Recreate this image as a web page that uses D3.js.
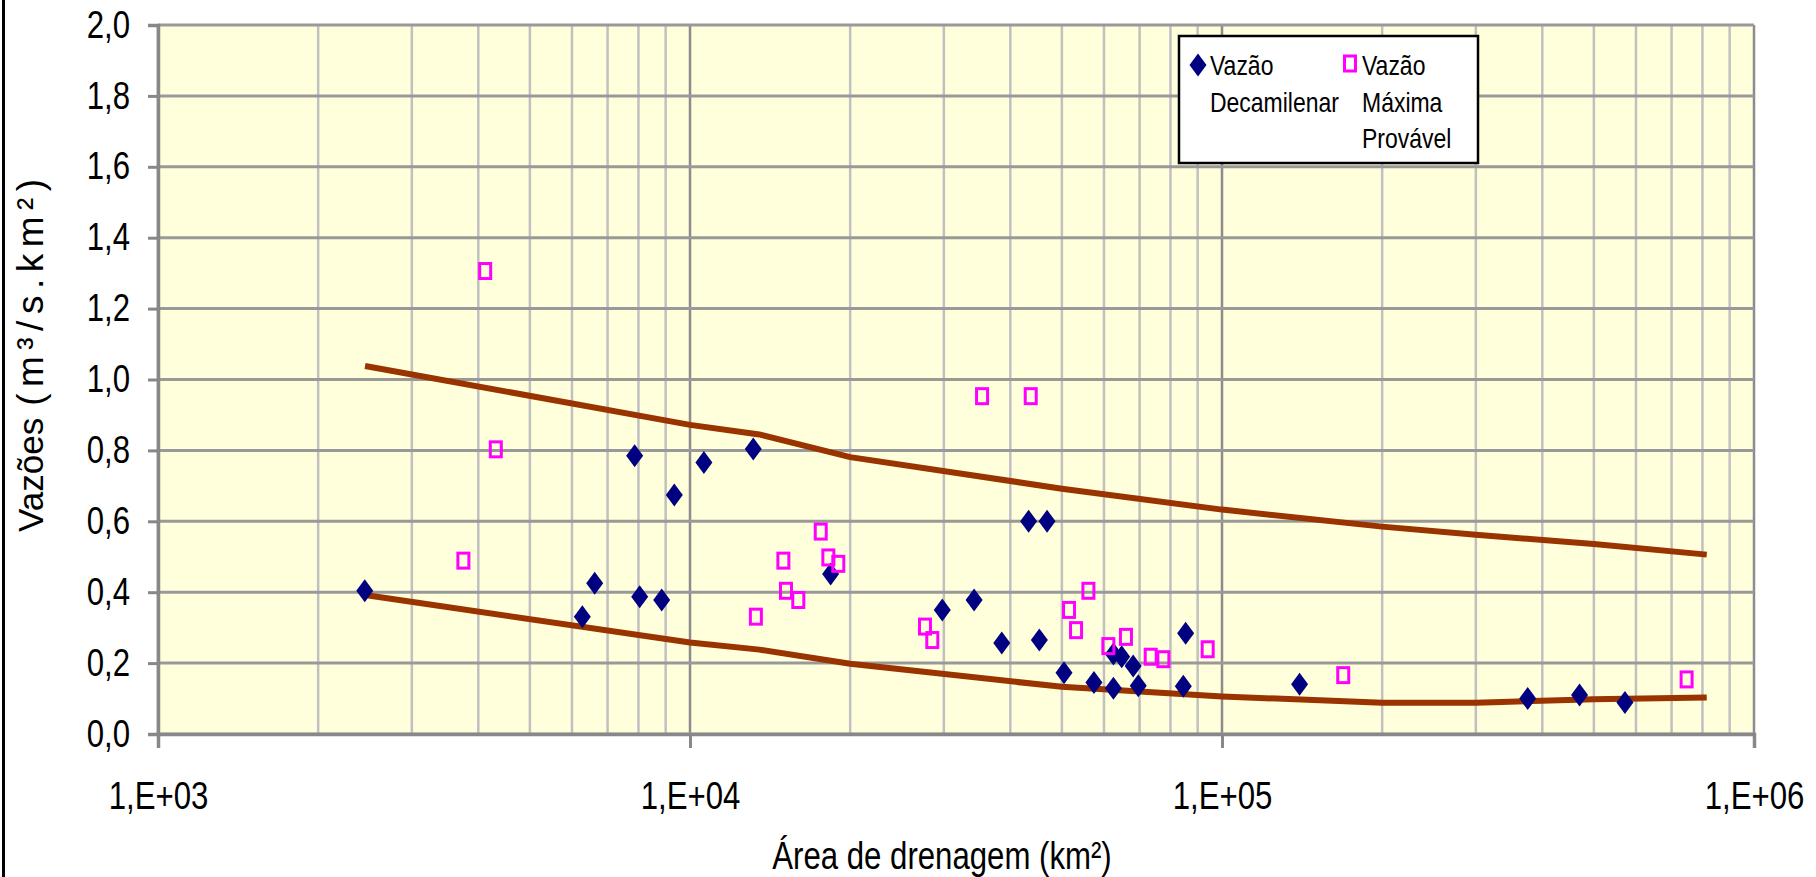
<!DOCTYPE html>
<html>
<head>
<meta charset="utf-8">
<script src="https://cdn.jsdelivr.net/npm/d3@7"></script>
<style>
  html, body { margin:0; padding:0; background:#fff; }
  svg { display:block; }
  text { font-family:"Liberation Sans",Arial,sans-serif; }
</style>
</head>
<body>
<svg id="chart" width="1816" height="877"></svg>
<script>
// ===== DATA =====
// Vazão Decamilenar: área (km²) and vazão específica (m³/s.km²)
const decArea = [2447, 6275, 6620, 7870, 8043, 8847, 9343, 10620, 13150, 18380,
                 29800, 34200, 38550, 43300, 45360, 46900, 50470, 57450, 62500, 64780,
                 62500, 68080, 69600, 85440, 84580, 139900, 375500, 470000, 572000];
const decQ    = [0.404, 0.331, 0.425, 0.785, 0.387, 0.378, 0.674, 0.766, 0.804, 0.451,
                 0.350, 0.378, 0.257, 0.600, 0.265, 0.600, 0.173, 0.145, 0.226, 0.218,
                 0.129, 0.192, 0.136, 0.284, 0.135, 0.140, 0.100, 0.110, 0.089];

// Vazão Máxima Provável
const pmfArea = [3750, 4121, 4315, 13300, 14980, 15150, 15980, 17610, 18200, 19000,
                 27650, 28540, 35400, 43700, 51580, 53170, 56090, 61150, 65990, 73450,
                 77590, 93990, 169000, 747000];
const pmfQ    = [0.489, 1.306, 0.803, 0.331, 0.489, 0.404, 0.378, 0.571, 0.498, 0.480,
                 0.303, 0.265, 0.953, 0.953, 0.350, 0.293, 0.404, 0.248, 0.274, 0.218,
                 0.211, 0.239, 0.166, 0.154];

// envelope curves
const envArea  = [2450, 10000, 13500, 20000, 50000, 100000, 200000, 300000, 500000, 815000];
const envUpper = [1.038, 0.872, 0.845, 0.781, 0.692, 0.633, 0.585, 0.562, 0.536, 0.506];
const envLower = [0.392, 0.258, 0.238, 0.198, 0.133, 0.106, 0.088, 0.088, 0.098, 0.103];

const xTicks = [1e3, 1e4, 1e5, 1e6];
const yTicks = [0, 0.2, 0.4, 0.6, 0.8, 1.0, 1.2, 1.4, 1.6, 1.8, 2.0];

const legendItems = [
  {shape:"diamond", lines:["Vazão", "Decamilenar"]},
  {shape:"square",  lines:["Vazão", "Máxima", "Provável"]}
];

// ===== SETUP =====
const svg = d3.select("#chart");
const margin = {top:25, right:62, bottom:143, left:158};
const W = 1816, H = 877;
const x = d3.scaleLog().domain([1e3, 1e6]).range([margin.left, W - margin.right]);
const y = d3.scaleLinear().domain([0, 2]).range([H - margin.bottom, margin.top]);

const navy = "#000080", magenta = "#ff00ff", brown = "#993300";

// squeeze Liberation Sans to look like Arial Narrow (no narrow font installed)
function narrow(sel, k = 0.82) {
  sel.each(function() {
    const len = this.getComputedTextLength();
    d3.select(this).attr("textLength", len * k).attr("lengthAdjust","spacingAndGlyphs");
  });
}

// dithered yellow background
const defs = svg.append("defs");
const pat = defs.append("pattern").attr("id","dither").attr("width",4).attr("height",4).attr("patternUnits","userSpaceOnUse");
pat.append("rect").attr("width",4).attr("height",4).attr("fill","#ffffd2");
pat.append("rect").attr("x",0).attr("y",0).attr("width",1).attr("height",1).attr("fill","#ffffff");
pat.append("rect").attr("x",2).attr("y",2).attr("width",1).attr("height",1).attr("fill","#ffffff");
pat.append("rect").attr("x",2).attr("y",0).attr("width",1).attr("height",1).attr("fill","#fffff0");
pat.append("rect").attr("x",0).attr("y",2).attr("width",1).attr("height",1).attr("fill","#fffff0");

// left frame line
svg.append("line").attr("x1",3.5).attr("x2",3.5).attr("y1",0).attr("y2",H)
  .attr("stroke","#000").attr("stroke-width",3);

svg.append("rect")
  .attr("x", x.range()[0]).attr("y", y.range()[1])
  .attr("width", x.range()[1] - x.range()[0]).attr("height", y.range()[0] - y.range()[1])
  .attr("fill","url(#dither)");

// ===== GRID =====
const minor = x.ticks().filter(d => Math.abs(Math.log10(d) - Math.round(Math.log10(d))) > 1e-6);
svg.append("g").selectAll("line").data(minor).join("line")
  .attr("x1", d => x(d)).attr("x2", d => x(d))
  .attr("y1", y(0)).attr("y2", y(2))
  .attr("stroke","#c0c0c0").attr("stroke-width",2.5);

svg.append("g").selectAll("line").data(xTicks).join("line")
  .attr("x1", d => x(d)).attr("x2", d => x(d))
  .attr("y1", y(0)).attr("y2", y(2))
  .attr("stroke","#8c8c8c").attr("stroke-width",2.5);

svg.append("g").selectAll("line").data(yTicks).join("line")
  .attr("x1", x(1e3)).attr("x2", x(1e6))
  .attr("y1", d => y(d)).attr("y2", d => y(d))
  .attr("stroke","#999").attr("stroke-width",3);

// ===== AXES =====
const xAxis = svg.append("g")
  .attr("transform",`translate(0,${y(0)})`)
  .call(d3.axisBottom(x).tickValues(xTicks).tickSize(14).tickPadding(34)
        .tickFormat(d => "1,E+0" + Math.round(Math.log10(d))));
const yAxis = svg.append("g")
  .attr("transform",`translate(${x(1e3)},0)`)
  .call(d3.axisLeft(y).tickValues(yTicks).tickSize(10).tickPadding(18)
        .tickFormat(d => d.toFixed(1).replace(".", ",")));

[xAxis, yAxis].forEach(a => {
  a.attr("font-family", null);
  a.select(".domain").attr("stroke","#888").attr("stroke-width",3.5);
  a.selectAll(".tick line").attr("stroke","#888").attr("stroke-width",3);
  a.selectAll(".tick text").attr("fill","#000").style("font-size","38px")
   .call(narrow);
});
xAxis.selectAll(".tick text").attr("dy","0.71em");

// ===== ENVELOPES =====
const line = d3.line().x(d => x(d[0])).y(d => y(d[1]));
[envUpper, envLower].forEach(vals => {
  svg.append("path")
    .datum(envArea.map((a, i) => [a, vals[i]]))
    .attr("d", line)
    .attr("fill","none").attr("stroke",brown).attr("stroke-width",6);
});

// ===== POINTS =====
const diamond = "M0,-11.5L8.5,0L0,11.5L-8.5,0Z";
svg.append("g").selectAll("path").data(decArea.map((a, i) => [a, decQ[i]])).join("path")
  .attr("d", diamond)
  .attr("transform", d => `translate(${x(d[0])},${y(d[1])})`)
  .attr("fill", navy);

svg.append("g").selectAll("rect").data(pmfArea.map((a, i) => [a, pmfQ[i]])).join("rect")
  .attr("x", d => x(d[0]) - 5.5).attr("y", d => y(d[1]) - 7.5)
  .attr("width", 11).attr("height", 15)
  .attr("fill","none").attr("stroke", magenta).attr("stroke-width",3);

// ===== LEGEND =====
const lg = svg.append("g").attr("transform","translate(1179,36)");
lg.append("rect").attr("width",299).attr("height",127)
  .attr("fill","#fff").attr("stroke","#000").attr("stroke-width",2.5);
const colX = [19, 171];
legendItems.forEach((it, i) => {
  const g = lg.append("g").attr("transform",`translate(${colX[i]},0)`);
  if (it.shape === "diamond") {
    g.append("path").attr("d", diamond).attr("transform","translate(0,29)").attr("fill",navy);
  } else {
    g.append("rect").attr("x",-5.5).attr("y",20).attr("width",11).attr("height",15)
      .attr("fill","none").attr("stroke",magenta).attr("stroke-width",3);
  }
  g.selectAll("text").data(it.lines).join("text")
    .attr("x", 12).attr("y", (d, j) => 39 + j * 36.5)
    .style("font-size","28px").attr("fill","#000")
    .text(d => d)
    .call(narrow);
});

// ===== TITLES =====
svg.append("text")
  .attr("x", 942).attr("y", 869).attr("text-anchor","middle")
  .style("font-size","38px").attr("fill","#000")
  .text("Área de drenagem (km²)")
  .call(narrow);

const yt = svg.append("text")
  .attr("transform","translate(43,532) rotate(-90)")
  .style("font-size","35px").attr("fill","#000");
yt.append("tspan").text("Vazões");
yt.append("tspan").attr("dx",12).style("letter-spacing","6.5px").style("font-size","37px").text("(m³/s.km²)");
</script>
</body>
</html>
